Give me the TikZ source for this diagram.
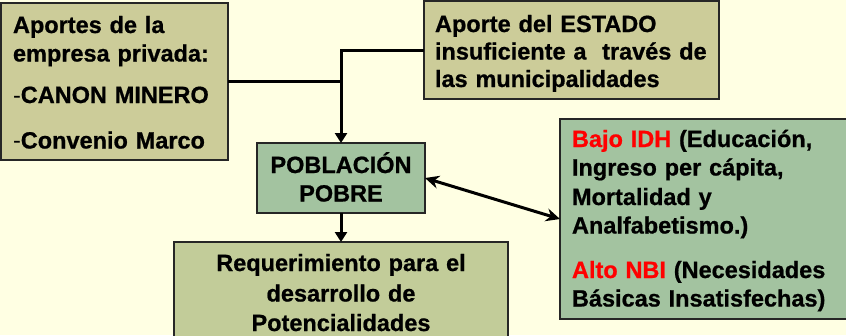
\documentclass[tikz,border=0pt]{standalone}
\usepackage{fontspec}
\setmainfont{Liberation Sans}[BoldFeatures={FakeBold=0.8}]
\usetikzlibrary{arrows.meta}
\definecolor{bgc}{RGB}{255,255,227}
\definecolor{olive}{RGB}{204,204,153}
\definecolor{sage}{RGB}{163,195,160}
\definecolor{pale}{RGB}{194,204,153}
\definecolor{idhred}{RGB}{255,0,0}
\tikzset{
  box/.style={draw=black!85, line width=1.6bp, inner sep=0pt, outer sep=0pt},
  txt/.style={font=\fontsize{23.5bp}{28.5bp}\selectfont\bfseries, inner sep=0pt, outer sep=0pt},
  conn/.style={line width=3bp, draw=black},
  downarrow/.style={conn, -{Triangle[length=10bp,width=12bp]}},
  bothways/.style={conn, {Stealth[length=14bp,width=13bp]}-{Stealth[length=14bp,width=13bp]}}
}
\begin{document}
\begin{tikzpicture}[x=1bp,y=-1bp]
\useasboundingbox (0,0) rectangle (846,335);
\fill[bgc] (0,0) rectangle (846,335);
% boxes
\node[box, fill=olive, minimum width=227bp, minimum height=157bp] (A) at (114.5,81.5) {};
\node[box, fill=olive, minimum width=295bp, minimum height=98bp] (B) at (571.5,50) {};
\node[box, fill=sage, minimum width=168bp, minimum height=70bp] (P) at (341,178) {};
\node[box, fill=pale, minimum width=334bp, minimum height=100bp] (R) at (341,292) {};
\node[box, fill=sage, minimum width=300bp, minimum height=200bp] (I) at (710,219) {};
% texts
\node[txt, anchor=base west, text width=220bp, align=left] (At) at (13,33)
  {Aportes de la\\empresa privada:\\[13bp]{\mdseries-}CANON MINERO\\[17bp]{\mdseries-}Convenio Marco};
\node[txt, anchor=base west, text width=290bp, align=left] (Bt) at (435,32)
  {Aporte del ESTADO\\[-1bp]insuficiente a\ \ través de\\[-1bp]las municipalidades};
\node[txt, anchor=base, text width=168bp, align=center] (Pt) at (341,173)
  {POBLACIÓN\\POBRE};
\node[txt, anchor=base, text width=330bp, align=center] (Rt) at (341,271)
  {Requerimiento para el\\[2bp]desarrollo de\\[1bp]Potencialidades};
\node[txt, anchor=base west, text width=280bp, align=left] (It) at (572,147)
  {\textcolor{idhred}{Bajo IDH} (Educación,\\Ingreso per cápita,\\[1bp]Mortalidad y\\Analfabetismo.)\\[16bp]\textcolor{idhred}{Alto NBI} (Necesidades\\Básicas Insatisfechas)};
% connectors
\draw[conn] (A.east) -- (A.east -| P.north);
\draw[downarrow] (B.west) -| (P.north);
\draw[downarrow] (P.south) -- (R.north);
\draw[bothways] (P.east) -- (I.west);
\end{tikzpicture}
\end{document}
